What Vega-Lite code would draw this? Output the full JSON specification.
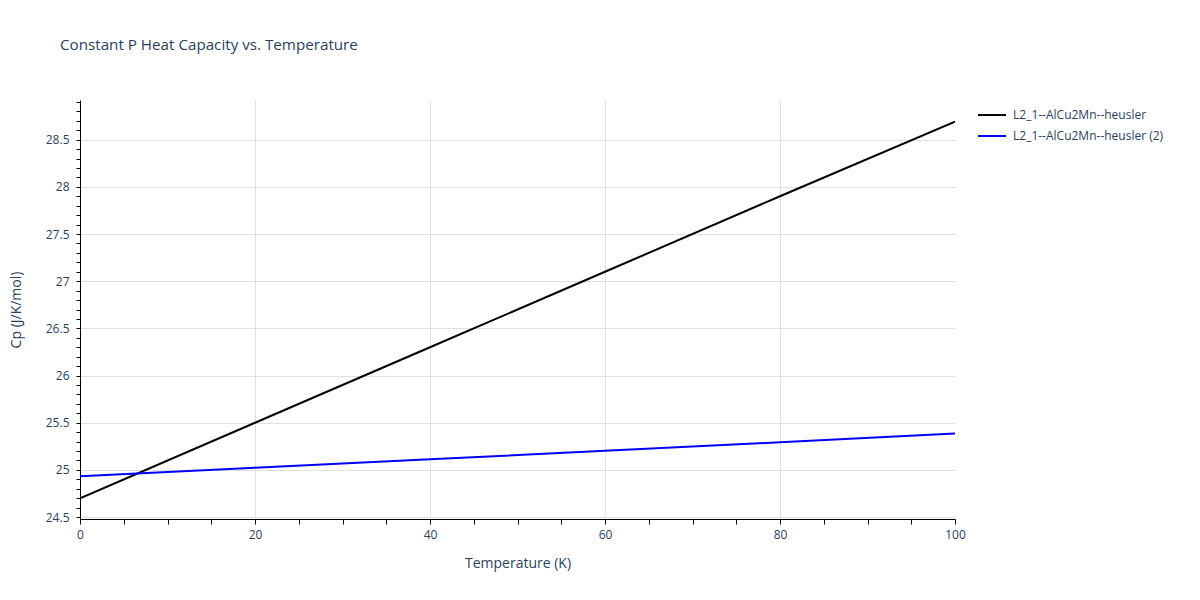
{
  "$schema": "https://vega.github.io/schema/vega-lite/v6.json",
  "autosize": {"type": "none"},
  "width": 875,
  "height": 419,
  "padding": {"left": 80, "top": 100, "right": 245, "bottom": 81},
  "background": "white",
  "config": {"font": "Open Sans", "view": {"stroke": null}},
  "title": {
    "text": "Constant P Heat Capacity vs. Temperature",
    "anchor": "start",
    "frame": "group",
    "dx": -20,
    "offset": 43,
    "fontSize": 15.2,
    "fontWeight": "normal",
    "color": "#2a3f5f"
  },
  "data": {
    "values": [
      {"T": 0, "Cp": 24.698, "series": "L2_1--AlCu2Mn--heusler"},
      {"T": 20, "Cp": 25.50, "series": "L2_1--AlCu2Mn--heusler"},
      {"T": 40, "Cp": 26.30, "series": "L2_1--AlCu2Mn--heusler"},
      {"T": 60, "Cp": 27.10, "series": "L2_1--AlCu2Mn--heusler"},
      {"T": 80, "Cp": 27.90, "series": "L2_1--AlCu2Mn--heusler"},
      {"T": 100, "Cp": 28.69, "series": "L2_1--AlCu2Mn--heusler"},
      {"T": 0, "Cp": 24.933, "series": "L2_1--AlCu2Mn--heusler (2)"},
      {"T": 20, "Cp": 25.023, "series": "L2_1--AlCu2Mn--heusler (2)"},
      {"T": 40, "Cp": 25.113, "series": "L2_1--AlCu2Mn--heusler (2)"},
      {"T": 60, "Cp": 25.203, "series": "L2_1--AlCu2Mn--heusler (2)"},
      {"T": 80, "Cp": 25.293, "series": "L2_1--AlCu2Mn--heusler (2)"},
      {"T": 100, "Cp": 25.385, "series": "L2_1--AlCu2Mn--heusler (2)"}
    ]
  },
  "mark": {"type": "line", "strokeWidth": 2, "clip": true},
  "encoding": {
    "x": {
      "field": "T",
      "type": "quantitative",
      "scale": {"domain": [0, 100], "nice": false, "zero": false},
      "axis": {
        "title": "Temperature (K)",
        "values": [0,5,10,15,20,25,30,35,40,45,50,55,60,65,70,75,80,85,90,95,100],
        "labelExpr": "datum.value % 20 == 0 ? toString(datum.value) : ''",
        "grid": true,
        "gridColor": "#e0e0e0",
        "gridWidth": 1,
        "gridOpacity": {"condition": {"test": "datum.value % 20 == 0 && datum.value > 0 && datum.value < 100", "value": 1}, "value": 0},
        "domainColor": "black",
        "domainWidth": 1,
        "tickColor": "black",
        "tickSize": 5,
        "tickWidth": 1,
        "labelFontSize": 12,
        "labelColor": "#2a3f5f",
        "labelPadding": 5,
        "labelFlush": false,
        "labelOverlap": false,
        "titleFontSize": 14,
        "titleFontWeight": "normal",
        "titleColor": "#2a3f5f",
        "titlePadding": 16
      }
    },
    "y": {
      "field": "Cp",
      "type": "quantitative",
      "scale": {"domain": [24.48, 28.92], "nice": false, "zero": false},
      "axis": {
        "title": "Cp (J/K/mol)",
        "values": [24.5,24.6,24.7,24.8,24.9,25,25.1,25.2,25.3,25.4,25.5,25.6,25.7,25.8,25.9,26,26.1,26.2,26.3,26.4,26.5,26.6,26.7,26.8,26.9,27,27.1,27.2,27.3,27.4,27.5,27.6,27.7,27.8,27.9,28,28.1,28.2,28.3,28.4,28.5,28.6,28.7,28.8,28.9],
        "labelExpr": "abs(datum.value*2 - round(datum.value*2)) < 0.01 ? toString(round(datum.value*10)/10) : ''",
        "grid": true,
        "gridColor": "#e0e0e0",
        "gridWidth": 1,
        "gridOpacity": {"condition": {"test": "abs(datum.value*2 - round(datum.value*2)) < 0.01", "value": 1}, "value": 0},
        "domainColor": "black",
        "domainWidth": 1,
        "tickColor": "black",
        "tickSize": 4,
        "tickWidth": 1,
        "labelFontSize": 12,
        "labelColor": "#2a3f5f",
        "labelPadding": 7,
        "labelFlush": false,
        "labelOverlap": false,
        "titleFontSize": 14,
        "titleFontWeight": "normal",
        "titleColor": "#2a3f5f",
        "titlePadding": 22
      }
    },
    "color": {
      "field": "series",
      "type": "nominal",
      "scale": {
        "domain": ["L2_1--AlCu2Mn--heusler", "L2_1--AlCu2Mn--heusler (2)"],
        "range": ["black", "blue"]
      },
      "legend": {
        "title": null,
        "orient": "none",
        "legendX": 897,
        "legendY": 0,
        "symbolType": "stroke",
        "symbolSize": 784,
        "symbolStrokeWidth": 2,
        "labelFontSize": 12,
        "labelColor": "#2a3f5f",
        "labelOffset": 6,
        "rowPadding": -11
      }
    }
  }
}
